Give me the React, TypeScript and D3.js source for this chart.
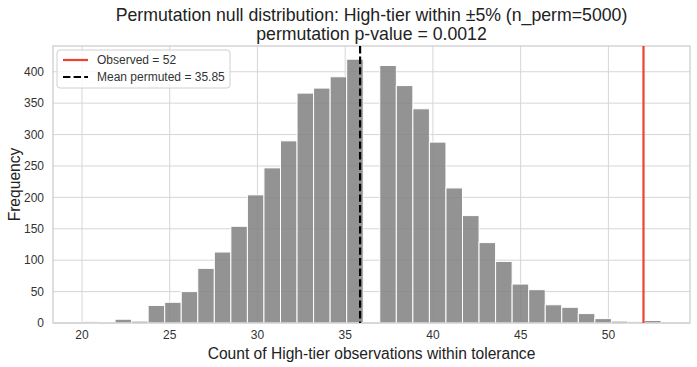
import React, { useEffect, useRef } from 'react';
import * as d3 from 'd3';

// histogram of permuted counts: 35 equal bins between min and max
const binRange: [number, number] = [20, 53];
const binCounts = [
  2, 0, 6, 3, 28, 33, 50, 87, 113, 154, 204, 247, 290, 366, 374, 392, 420, 0,
  410, 378, 341, 288, 215, 171, 128, 98, 62, 53, 29, 25, 15, 7, 3, 2, 4,
];
const xTicks = [20, 25, 30, 35, 40, 45, 50];
const yTicks = [0, 50, 100, 150, 200, 250, 300, 350, 400];
const observed = 52;
const meanPermuted = 35.85;
const titleLines = [
  'Permutation null distribution: High-tier within ±5% (n_perm=5000)',
  'permutation p-value = 0.0012',
];
const legendItems = [
  { label: `Observed = ${observed}`, color: '#f0412e', dash: null },
  { label: `Mean permuted = ${meanPermuted}`, color: '#000000', dash: '7.4,3.2' },
];

const W = 697;
const H = 367;
const FONT = '"Liberation Sans", Arial, Helvetica, sans-serif';

const App: React.FC = () => {
  const ref = useRef<SVGSVGElement>(null);

  useEffect(() => {
    document.body.style.margin = '0';
    if (!ref.current) return;

    const margin = { top: 46, right: 7, bottom: 44, left: 53 };
    const width = W - margin.left - margin.right;
    const height = H - margin.top - margin.bottom;

    const svg = d3.select(ref.current);
    svg.selectAll('*').remove();

    const span = binRange[1] - binRange[0];
    const pad = span * 0.05;
    const binW = span / binCounts.length;
    const bins = binCounts.map((c, i) => ({ x0: binRange[0] + i * binW, x1: binRange[0] + (i + 1) * binW, c }));

    const x = d3.scaleLinear().domain([binRange[0] - pad, binRange[1] + pad]).range([0, width]);
    const y = d3.scaleLinear().domain([0, (d3.max(binCounts) || 0) * 1.05]).range([height, 0]);

    const g = svg.append('g').attr('transform', `translate(${margin.left},${margin.top})`);

    // grid
    g.selectAll('.gx').data(xTicks).enter().append('line')
      .attr('x1', d => x(d)).attr('x2', d => x(d))
      .attr('y1', 0).attr('y2', height)
      .attr('stroke', '#d6d6d6').attr('stroke-width', 1);
    g.selectAll('.gy').data(yTicks).enter().append('line')
      .attr('x1', 0).attr('x2', width)
      .attr('y1', d => y(d)).attr('y2', d => y(d))
      .attr('stroke', '#d6d6d6').attr('stroke-width', 1);

    // bars
    g.selectAll('.bar').data(bins.filter(b => b.c > 0)).enter().append('rect')
      .attr('x', d => x(d.x0))
      .attr('y', d => y(d.c))
      .attr('width', d => x(d.x1) - x(d.x0))
      .attr('height', d => y(0) - y(d.c))
      .attr('fill', '#808080')
      .attr('fill-opacity', 0.85)
      .attr('stroke', '#ffffff')
      .attr('stroke-width', 1);

    // frame
    g.append('rect')
      .attr('x', 0).attr('y', 0).attr('width', width).attr('height', height)
      .attr('fill', 'none').attr('stroke', '#cccccc').attr('stroke-width', 1.25);

    // reference lines
    g.append('line')
      .attr('x1', x(observed)).attr('x2', x(observed))
      .attr('y1', 0).attr('y2', height)
      .attr('stroke', legendItems[0].color).attr('stroke-width', 2.2);
    g.append('line')
      .attr('x1', x(meanPermuted)).attr('x2', x(meanPermuted))
      .attr('y1', 0).attr('y2', height)
      .attr('stroke', legendItems[1].color).attr('stroke-width', 2.2)
      .attr('stroke-dasharray', legendItems[1].dash as string);

    // tick labels
    g.selectAll('.xt').data(xTicks).enter().append('text')
      .attr('x', d => x(d)).attr('y', height + 15.5)
      .attr('text-anchor', 'middle')
      .attr('font-family', FONT).attr('font-size', 12).attr('fill', '#333333')
      .text(d => d);
    g.selectAll('.yt').data(yTicks).enter().append('text')
      .attr('x', -9).attr('y', d => y(d) + 4.3)
      .attr('text-anchor', 'end')
      .attr('font-family', FONT).attr('font-size', 12).attr('fill', '#333333')
      .text(d => d);

    // axis labels
    g.append('text')
      .attr('x', width / 2).attr('y', height + 35.5)
      .attr('text-anchor', 'middle')
      .attr('font-family', FONT).attr('font-size', 15.6).attr('fill', '#222222')
      .text('Count of High-tier observations within tolerance');
    svg.append('text')
      .attr('transform', `translate(19.5,${margin.top + height / 2}) rotate(-90)`)
      .attr('text-anchor', 'middle')
      .attr('font-family', FONT).attr('font-size', 15.6).attr('fill', '#222222')
      .text('Frequency');

    // title
    svg.selectAll('.title').data(titleLines).enter().append('text')
      .attr('x', margin.left + width / 2)
      .attr('y', (d, i) => 21 + i * 18.5)
      .attr('text-anchor', 'middle')
      .attr('font-family', FONT).attr('font-size', 17.7).attr('fill', '#222222')
      .text(d => d);

    // legend
    const lg = g.append('g').attr('transform', 'translate(4,4)');
    lg.append('rect')
      .attr('x', 0).attr('y', 0).attr('width', 173).attr('height', 38).attr('rx', 3)
      .attr('fill', '#ffffff').attr('fill-opacity', 0.8)
      .attr('stroke', '#d0d0d0').attr('stroke-width', 1);
    const items = lg.selectAll('.li').data(legendItems).enter().append('g')
      .attr('transform', (d, i) => `translate(0,${10 + i * 17})`);
    items.append('line')
      .attr('x1', 6).attr('x2', 31).attr('y1', 0).attr('y2', 0)
      .attr('stroke', d => d.color).attr('stroke-width', 2.2)
      .attr('stroke-dasharray', d => d.dash || null);
    items.append('text')
      .attr('x', 40).attr('y', 4.3)
      .attr('font-family', FONT).attr('font-size', 12).attr('fill', '#333333')
      .text(d => d.label);
  }, []);

  return <svg ref={ref} width={W} height={H} style={{ display: 'block', background: '#ffffff' }} />;
};

export default App;
